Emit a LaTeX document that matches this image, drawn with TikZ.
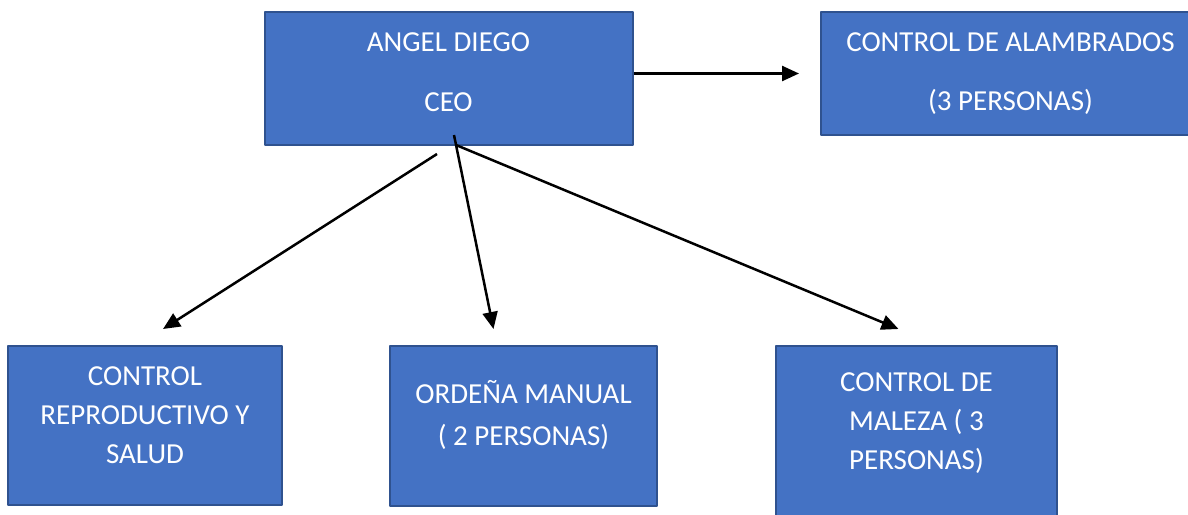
\documentclass[tikz,border=0pt]{standalone}
\usepackage{fontspec}
\setmainfont{Carlito}
\usetikzlibrary{arrows.meta}
\definecolor{boxfill}{HTML}{4472C4}
\definecolor{boxline}{HTML}{2F528F}
\begin{document}
\begin{tikzpicture}[x=1pt,y=-1pt,>={Triangle[length=17pt,width=15pt]},line join=round,
	box/.style={draw=boxline,line width=2pt,fill=boxfill,text=white,align=center,inner sep=0pt,
		font=\fontsize{29}{39}\selectfont},
	link/.style={->,line width=2.5pt}]
	\useasboundingbox (0,0) rectangle (1188,514);
	% cajas
	\node[box,minimum width=368,minimum height=133,text depth=13pt] (ceo) at (448.5,78.5) {ANGEL DIEGO\\[21pt]CEO};
	\node[box,minimum width=379,minimum height=123] (alam) at (1010.5,73.5) {CONTROL DE ALAMBRADOS\\[20pt](3 PERSONAS)};
	\node[box,minimum width=274,minimum height=159,text depth=21pt] (rep) at (145,425.5) {CONTROL\\REPRODUCTIVO Y\\SALUD};
	\node[box,minimum width=267,minimum height=160,text depth=26pt] (ord) at (523.5,426) {ORDEÑA MANUAL\\[3pt]( 2 PERSONAS)};
	\node[box,minimum width=281,minimum height=176,text depth=25pt] (mal) at (916.5,434) {CONTROL DE\\MALEZA ( 3\\PERSONAS)};
	% flechas
	\coordinate (s1) at (437,154);
	\coordinate (s2) at (454,135);
	\coordinate (s3) at (456,145);
	\draw[link] (ceo.east|-alam.west) -- ([xshift=-21pt]alam.west);
	\draw[link] (s1) -- ([xshift=18pt,yshift=16pt]rep.north);
	\draw[link] (s2) -- ([xshift=-30pt,yshift=16pt]ord.north);
	\draw[link] (s3) -- ([xshift=-18pt,yshift=16pt]mal.north);
\end{tikzpicture}
\end{document}
